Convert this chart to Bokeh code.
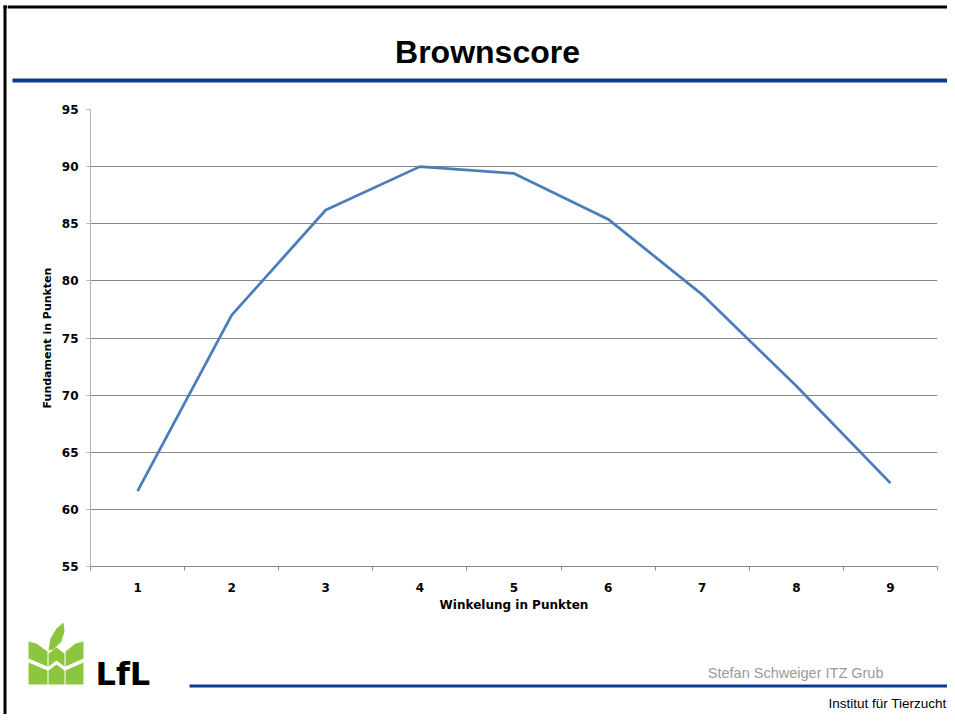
import glob
from bokeh.plotting import figure
from bokeh.layouts import row, column
from bokeh.models import Range1d, FixedTicker
from bokeh.core.properties import value
from bokeh.embed import file_html
from bokeh.resources import INLINE

# ---- data ----
winkelung = [1, 2, 3, 4, 5, 6, 7, 8, 9]
fundament = [61.6, 77.0, 86.2, 90.0, 89.4, 85.4, 78.8, 70.8, 62.3]
x_ticks = [1, 2, 3, 4, 5, 6, 7, 8, 9]
y_ticks = [55, 60, 65, 70, 75, 80, 85, 90, 95]
title_text = "Brownscore"
x_label = "Winkelung in Punkten"
y_label = "Fundament in Punkten"
footer_author = "Stefan Schweiger ITZ Grub"
footer_inst = "Institut für Tierzucht"
logo_text = "LfL"

# ---- layout (page pixels) ----
W, H = 947, 714
SW = 7                      # left strip holding the slide border
HEAD_B = 100                # header bottom
FOOT_T = 615                # footer top
FL, FR, FT, FB = 90, 937, 109, 566   # chart frame

BLUE = "#0b3a94"
GREEN = "#8cc63e"
GRID = "#878787"

# narrow bold title font if available, otherwise regular Liberation Sans
_narrow = glob.glob("/usr/share/fonts/**/LiberationSansNarrow-Bold.ttf", recursive=True)
TITLE_FONT, TITLE_SIZE = ("Liberation Sans Narrow", "36px") if _narrow else ("Liberation Sans", "32px")


def deco(width, height, x0, x1, y0, y1):
    f = figure(width=width, height=height, output_backend="svg", toolbar_location=None,
               x_range=Range1d(x0, x1), y_range=Range1d(y1, y0),
               x_axis_location=None, y_axis_location=None,
               min_border=0, min_border_left=0, min_border_right=0,
               min_border_top=0, min_border_bottom=0)
    f.frame_align = False
    f.grid.visible = False
    f.outline_line_color = None
    f.background_fill_color = "white"
    f.border_fill_color = "white"
    return f


def put_text(f, x, y, text, size, color="black", align="left", style="normal", font="Liberation Sans"):
    f.text(x=[x], y=[y], text=[text], text_align=align, text_baseline="middle",
           text_font=value(font), text_font_style=style, text_font_size=size, text_color=color)


# left strip with the slide's black border
strip = deco(SW, H, 0, SW, 0, H)
strip.quad(left=[3, 3], right=[6, SW], top=[5, 5], bottom=[H, 8], fill_color="black", line_color=None)

# header
head = deco(W - SW, HEAD_B, SW, W, 0, HEAD_B)
head.quad(left=[SW, 12], right=[W, W], top=[5, 78], bottom=[8, 82],
          fill_color=["black", BLUE], line_color=None)
put_text(head, 487, 51, title_text, TITLE_SIZE, align="center", style="bold", font=TITLE_FONT)

# main chart
p = figure(width=W - SW, height=FOOT_T - HEAD_B, output_backend="svg", toolbar_location=None,
           x_range=Range1d(0.5, 9.5), y_range=Range1d(55, 95),
           min_border_left=FL - SW, min_border_right=W - FR,
           min_border_top=FT - HEAD_B, min_border_bottom=FOOT_T - FB)
p.frame_align = False
p.outline_line_color = None
p.background_fill_color = "white"
p.border_fill_color = "white"

xa = p.xaxis[0]
xa.ticker = FixedTicker(ticks=x_ticks, minor_ticks=[t - 0.5 for t in x_ticks] + [x_ticks[-1] + 0.5])
xa.major_tick_out = 0
xa.major_tick_in = 0
xa.minor_tick_out = 4
xa.minor_tick_in = 0
xa.minor_tick_line_color = GRID
xa.axis_line_color = GRID
xa.major_label_text_font = "DejaVu Sans"
xa.major_label_text_font_style = "bold"
xa.major_label_text_font_size = "12px"
xa.major_label_text_color = "black"
xa.major_label_standoff = 12
xa.axis_label = x_label
xa.axis_label_text_font = "DejaVu Sans"
xa.axis_label_text_font_style = "bold"
xa.axis_label_text_font_size = "12px"
xa.axis_label_text_color = "black"
xa.axis_label_standoff = 3

ya = p.yaxis[0]
ya.ticker = FixedTicker(ticks=y_ticks, minor_ticks=[])
ya.major_tick_out = 4
ya.major_tick_in = 0
ya.major_tick_line_color = "#b3b3b3"
ya.axis_line_color = "#b3b3b3"
ya.major_label_text_font = "DejaVu Sans"
ya.major_label_text_font_style = "bold"
ya.major_label_text_font_size = "12px"
ya.major_label_text_color = "black"
ya.major_label_standoff = 8
ya.axis_label = y_label
ya.axis_label_text_font = "DejaVu Sans"
ya.axis_label_text_font_style = "bold"
ya.axis_label_text_font_size = "11px"
ya.axis_label_text_color = "black"
ya.axis_label_standoff = 5

p.xgrid.grid_line_color = None
p.ygrid.ticker = FixedTicker(ticks=y_ticks)
p.ygrid.grid_line_color = GRID
p.ygrid.grid_line_width = 1

p.line(winkelung, fundament, line_color="#4a7ebb", line_width=2.75)

# footer
foot = deco(W - SW, H - FOOT_T, SW, W, FOOT_T, H)
foot.quad(left=[189], right=[W], top=[684], bottom=[687], fill_color=BLUE, line_color=None)
put_text(foot, 883, 672, footer_author, "14.5px", color="#9a9a9a", align="right")
put_text(foot, 946, 703, footer_inst, "13.5px", align="right")
put_text(foot, 95, 673, logo_text, "32px", style="bold", font="DejaVu Sans")

logo_polys = [
    [(28, 641), (36, 643), (47, 651), (47, 666), (28, 658)],
    [(28, 662), (47, 670), (47, 684), (28, 684)],
    [(83, 641), (75, 643), (65, 651), (65, 666), (83, 658)],
    [(83, 662), (65, 670), (65, 684), (83, 684)],
    [(48, 653), (56, 647), (64, 653), (64, 666), (56, 660), (48, 666)],
    [(48, 670), (56, 664), (64, 670), (64, 684), (48, 684)],
    [(48, 650), (50, 638), (56, 628), (63, 622), (64, 631), (61, 641), (53, 649)],
]
foot.patches(xs=[[q[0] for q in pl] for pl in logo_polys],
             ys=[[q[1] for q in pl] for pl in logo_polys],
             fill_color=GREEN, line_color=None)

layout = row(strip, column(head, p, foot, spacing=0), spacing=0)
open("out.html", "w").write(file_html(layout, INLINE))
